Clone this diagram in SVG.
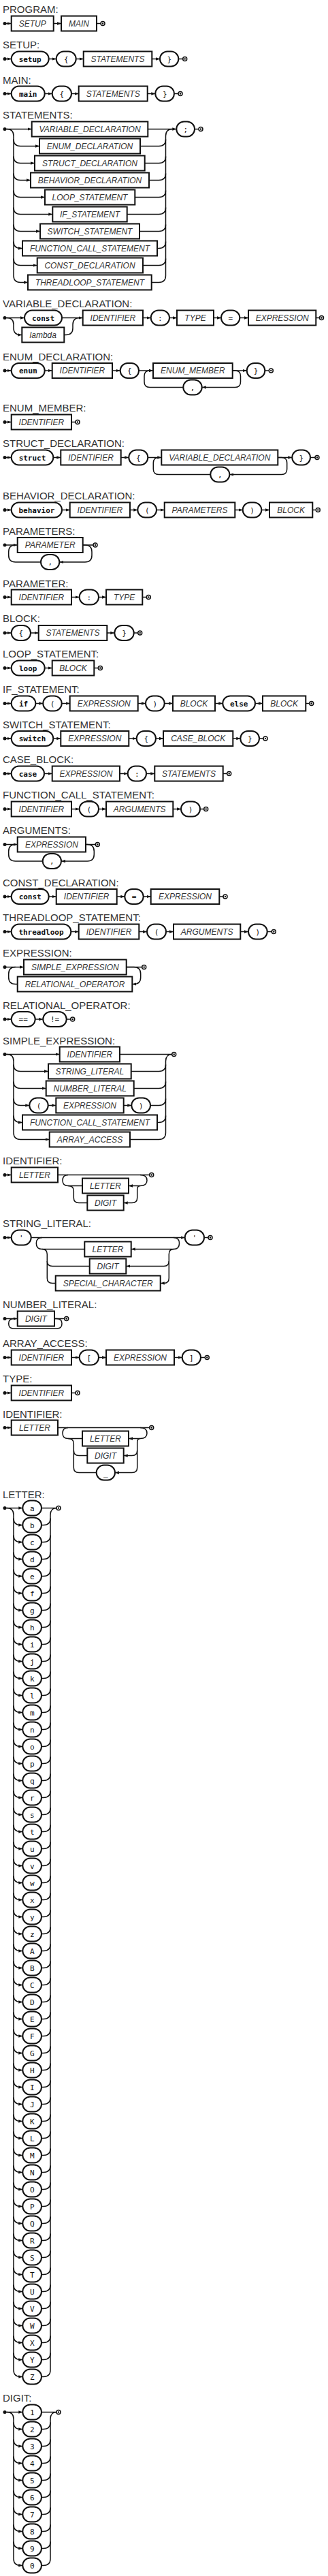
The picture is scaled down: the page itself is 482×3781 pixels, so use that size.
<svg xmlns="http://www.w3.org/2000/svg" xmlns:xlink="http://www.w3.org/1999/xlink" width="482" height="3781" viewBox="0 0 482 3781">
<style>
.ti{font-family:"Liberation Sans",Arial,sans-serif;font-size:15px;fill:#333}
.n rect{fill:#fff;stroke:#111;stroke-width:2}
.n text{font-family:"Liberation Sans",Arial,sans-serif;font-style:italic;font-size:12px;fill:#333;text-anchor:middle}
.k rect{fill:#fff;stroke:#111;stroke-width:2;rx:11px;ry:11px}
.k text{font-family:"DejaVu Sans Mono",monospace;font-size:11px;fill:#111;text-anchor:middle}
.k.b text{font-weight:bold}
.w path{fill:none;stroke:#111;stroke-width:1.5}
.w path.a{marker-end:url(#ah)}
.sd{fill:#111}
</style>
<defs>
<marker id="ah" viewBox="0 0 6 6" refX="6" refY="3" markerWidth="6" markerHeight="6" markerUnits="userSpaceOnUse" orient="auto"><path d="M0,0.8 L6,3 L0,5.2 z" fill="#111"/></marker>
<g id="endm"><circle r="3" fill="#fff" stroke="#111" stroke-width="1.5"/><circle r="1.2" fill="#111"/></g>
</defs>
<rect width="482" height="3781" fill="#fff"/>

<g id="rule-program">
<text class="ti" x="4" y="19">PROGRAM:</text>
<g id="program-wires" class="w">
<path class="a" d="M7,34.5 H16.7"/><path class="a" d="M78.7,34.5 H90"/><path d="M142,34.5 H148"/>
</g>
<circle class="sd" cx="7" cy="34.5" r="2.5"/><use xlink:href="#endm" x="151" y="34.5"/>
<g id="program-setup" class="n" transform="translate(0,34.5)"><rect x="16.7" y="-11" width="62" height="22"/><text x="47.7" y="4.3">SETUP</text></g>
<g id="program-main" class="n" transform="translate(0,34.5)"><rect x="90" y="-11" width="52" height="22"/><text x="116" y="4.3">MAIN</text></g>
</g>

<g id="rule-setup">
<text class="ti" x="4" y="71">SETUP:</text>
<g id="setup-wires" class="w">
<path class="a" d="M7,86.5 H16.7"/><path class="a" d="M71.7,86.5 H82.7"/><path class="a" d="M111.7,86.5 H122.7"/><path class="a" d="M223.3,86.5 H235"/><path d="M262.3,86.5 H268.7"/>
</g>
<circle class="sd" cx="7" cy="86.5" r="2.5"/><use xlink:href="#endm" x="271.7" y="86.5"/>
<g id="setup-kw" class="k b" transform="translate(0,86.5)"><rect x="16.7" y="-11" width="55" height="22"/><text x="44.2" y="4">setup</text></g>
<g id="setup-lbrace" class="k" transform="translate(0,86.5)"><rect x="82.7" y="-11" width="29" height="22"/><text x="97.2" y="4">{</text></g>
<g id="setup-statements" class="n" transform="translate(0,86.5)"><rect x="122.7" y="-11" width="100.6" height="22"/><text x="173" y="4.3">STATEMENTS</text></g>
<g id="setup-rbrace" class="k" transform="translate(0,86.5)"><rect x="235" y="-11" width="27.3" height="22"/><text x="248.7" y="4">}</text></g>
</g>

<g id="rule-main">
<text class="ti" x="4" y="122.5">MAIN:</text>
<g id="main-wires" class="w">
<path class="a" d="M7,137.5 H16.7"/><path class="a" d="M65.7,137.5 H76.7"/><path class="a" d="M105,137.5 H115.7"/><path class="a" d="M216.7,137.5 H228.3"/><path d="M256,137.5 H262"/>
</g>
<circle class="sd" cx="7" cy="137.5" r="2.5"/><use xlink:href="#endm" x="265" y="137.5"/>
<g id="main-kw" class="k b" transform="translate(0,137.5)"><rect x="16.7" y="-11" width="49" height="22"/><text x="41.2" y="4">main</text></g>
<g id="main-lbrace" class="k" transform="translate(0,137.5)"><rect x="76.7" y="-11" width="28.3" height="22"/><text x="90.9" y="4">{</text></g>
<g id="main-statements" class="n" transform="translate(0,137.5)"><rect x="115.7" y="-11" width="101" height="22"/><text x="166.2" y="4.3">STATEMENTS</text></g>
<g id="main-rbrace" class="k" transform="translate(0,137.5)"><rect x="228.3" y="-11" width="27.7" height="22"/><text x="242.2" y="4">}</text></g>
</g>

<g id="rule-statements">
<text class="ti" x="4" y="174">STATEMENTS:</text>
<g id="statements-wires" class="w">
<path class="a" d="M7,189.5 H46.7"/>
<path class="a" d="M217.3,189.5 H259.3"/>
<path d="M286,189.5 H292"/>
<path class="a" d="M10,189.5 Q20,189.5 20,199.5 V404.5 Q20,414.5 30,414.5 H41"/>
<path class="a" d="M20,204.5 Q20,214.5 30,214.5 H58"/>
<path class="a" d="M20,229.5 Q20,239.5 30,239.5 H51"/>
<path class="a" d="M20,254.5 Q20,264.5 30,264.5 H45"/>
<path class="a" d="M20,279.5 Q20,289.5 30,289.5 H66"/>
<path class="a" d="M20,304.5 Q20,314.5 30,314.5 H77.3"/>
<path class="a" d="M20,329.5 Q20,339.5 30,339.5 H59"/>
<path class="a" d="M20,354.5 Q20,364.5 30,364.5 H33"/>
<path class="a" d="M20,379.5 Q20,389.5 30,389.5 H54.7"/>
<path d="M222.7,414.5 H233.5 Q243.5,414.5 243.5,404.5 V199.5 Q243.5,189.5 253.5,189.5"/>
<path d="M206,214.5 H233.5 Q243.5,214.5 243.5,204.5 M212.7,239.5 H233.5 Q243.5,239.5 243.5,229.5 M219,264.5 H233.5 Q243.5,264.5 243.5,254.5 M198.3,289.5 H233.5 Q243.5,289.5 243.5,279.5 M186.7,314.5 H233.5 Q243.5,314.5 243.5,304.5 M205,339.5 H233.5 Q243.5,339.5 243.5,329.5 M231,364.5 H233.5 Q243.5,364.5 243.5,354.5 M210,389.5 H233.5 Q243.5,389.5 243.5,379.5"/>
</g>
<circle class="sd" cx="7" cy="189.5" r="2.5"/><use xlink:href="#endm" x="295" y="189.5"/>
<g id="statements-variable-declaration" class="n" transform="translate(0,189.5)"><rect x="46.7" y="-11" width="170.6" height="22"/><text x="132" y="4.3">VARIABLE_DECLARATION</text></g>
<g id="statements-enum-declaration" class="n" transform="translate(0,214.5)"><rect x="58" y="-11" width="148" height="22"/><text x="132" y="4.3">ENUM_DECLARATION</text></g>
<g id="statements-struct-declaration" class="n" transform="translate(0,239.5)"><rect x="51" y="-11" width="161.7" height="22"/><text x="132" y="4.3">STRUCT_DECLARATION</text></g>
<g id="statements-behavior-declaration" class="n" transform="translate(0,264.5)"><rect x="45" y="-11" width="174" height="22"/><text x="132" y="4.3">BEHAVIOR_DECLARATION</text></g>
<g id="statements-loop-statement" class="n" transform="translate(0,289.5)"><rect x="66" y="-11" width="132.3" height="22"/><text x="132" y="4.3">LOOP_STATEMENT</text></g>
<g id="statements-if-statement" class="n" transform="translate(0,314.5)"><rect x="77.3" y="-11" width="109.4" height="22"/><text x="132" y="4.3">IF_STATEMENT</text></g>
<g id="statements-switch-statement" class="n" transform="translate(0,339.5)"><rect x="59" y="-11" width="146" height="22"/><text x="132" y="4.3">SWITCH_STATEMENT</text></g>
<g id="statements-function-call-statement" class="n" transform="translate(0,364.5)"><rect x="33" y="-11" width="198" height="22"/><text x="132" y="4.3">FUNCTION_CALL_STATEMENT</text></g>
<g id="statements-const-declaration" class="n" transform="translate(0,389.5)"><rect x="54.7" y="-11" width="155.3" height="22"/><text x="132" y="4.3">CONST_DECLARATION</text></g>
<g id="statements-threadloop-statement" class="n" transform="translate(0,414.5)"><rect x="41" y="-11" width="181.7" height="22"/><text x="132" y="4.3">THREADLOOP_STATEMENT</text></g>
<g id="statements-semicolon" class="k" transform="translate(0,189.5)"><rect x="259.3" y="-11" width="26.7" height="22"/><text x="272.7" y="4">;</text></g>
</g>

<g id="rule-variable-declaration">
<text class="ti" x="4" y="450.5">VARIABLE_DECLARATION:</text>
<g id="vardecl-wires" class="w">
<path class="a" d="M7,466.5 H36"/>
<path class="a" d="M10,466.5 Q20,466.5 20,476.5 V481.5 Q20,491.5 30,491.5 H32.3"/>
<path class="a" d="M91,466.5 H121.7"/>
<path d="M94.3,491.5 H97 Q107,491.5 107,481.5 V476.5 Q107,466.5 117,466.5"/>
<path class="a" d="M210,466.5 H221.7"/><path class="a" d="M249,466.5 H260"/><path class="a" d="M314,466.5 H325"/><path class="a" d="M352.3,466.5 H365"/><path d="M464.3,466.5 H469.5"/>
</g>
<circle class="sd" cx="7" cy="466.5" r="2.5"/><use xlink:href="#endm" x="472.5" y="466.5"/>
<g id="vardecl-const" class="k b" transform="translate(0,466.5)"><rect x="36" y="-11" width="55" height="22"/><text x="63.5" y="4">const</text></g>
<g id="vardecl-lambda" class="n" transform="translate(0,491.5)"><rect x="32.3" y="-11" width="62" height="22"/><text x="63.3" y="4.3">lambda</text></g>
<g id="vardecl-identifier" class="n" transform="translate(0,466.5)"><rect x="121.7" y="-11" width="88.3" height="22"/><text x="165.9" y="4.3">IDENTIFIER</text></g>
<g id="vardecl-colon" class="k" transform="translate(0,466.5)"><rect x="221.7" y="-11" width="27.3" height="22"/><text x="235.4" y="4">:</text></g>
<g id="vardecl-type" class="n" transform="translate(0,466.5)"><rect x="260" y="-11" width="54" height="22"/><text x="287" y="4.3">TYPE</text></g>
<g id="vardecl-eq" class="k" transform="translate(0,466.5)"><rect x="325" y="-11" width="27.3" height="22"/><text x="338.7" y="4">=</text></g>
<g id="vardecl-expression" class="n" transform="translate(0,466.5)"><rect x="365" y="-11" width="99.3" height="22"/><text x="414.7" y="4.3">EXPRESSION</text></g>
</g>

<g id="rule-enum-declaration">
<text class="ti" x="4" y="529">ENUM_DECLARATION:</text>
<g id="enumdecl-wires" class="w">
<path class="a" d="M7,544 H16.7"/><path class="a" d="M65.7,544 H76.7"/><path class="a" d="M165,544 H176.7"/><path class="a" d="M204,544 H225"/><path class="a" d="M341.7,544 H362.7"/><path d="M389.3,544 H395.3"/>
<path class="a" d="M341.7,544 H345.5 Q353.5,544 353.5,552 V560.5 Q353.5,568.5 345.5,568.5 H296.7"/>
<path d="M269.3,568.5 H220 Q212,568.5 212,560.5 V552 Q212,544 220,544"/>
</g>
<circle class="sd" cx="7" cy="544" r="2.5"/><use xlink:href="#endm" x="398.3" y="544"/>
<g id="enumdecl-enum" class="k b" transform="translate(0,544)"><rect x="16.7" y="-11" width="49" height="22"/><text x="41.2" y="4">enum</text></g>
<g id="enumdecl-identifier" class="n" transform="translate(0,544)"><rect x="76.7" y="-11" width="88.3" height="22"/><text x="120.9" y="4.3">IDENTIFIER</text></g>
<g id="enumdecl-lbrace" class="k" transform="translate(0,544)"><rect x="176.7" y="-11" width="27.3" height="22"/><text x="190.4" y="4">{</text></g>
<g id="enumdecl-member" class="n" transform="translate(0,544)"><rect x="225" y="-11" width="116.7" height="22"/><text x="283.4" y="4.3">ENUM_MEMBER</text></g>
<g id="enumdecl-rbrace" class="k" transform="translate(0,544)"><rect x="362.7" y="-11" width="26.6" height="22"/><text x="376" y="4">}</text></g>
<g id="enumdecl-comma" class="k" transform="translate(0,568.5)"><rect x="269.3" y="-11" width="27.4" height="22"/><text x="283" y="4">,</text></g>
</g>

<g id="rule-enum-member">
<text class="ti" x="4" y="604">ENUM_MEMBER:</text>
<g id="enummember-wires" class="w"><path class="a" d="M7,619.5 H16.7"/><path d="M105,619.5 H111"/></g>
<circle class="sd" cx="7" cy="619.5" r="2.5"/><use xlink:href="#endm" x="114" y="619.5"/>
<g id="enummember-identifier" class="n" transform="translate(0,619.5)"><rect x="16.7" y="-11" width="88.3" height="22"/><text x="60.9" y="4.3">IDENTIFIER</text></g>
</g>

<g id="rule-struct-declaration">
<text class="ti" x="4" y="656">STRUCT_DECLARATION:</text>
<g id="structdecl-wires" class="w">
<path class="a" d="M7,671.5 H16.7"/><path class="a" d="M78.3,671.5 H89.3"/><path class="a" d="M177.7,671.5 H189.3"/><path class="a" d="M217.3,671.5 H237.3"/><path class="a" d="M408.3,671.5 H429.3"/><path d="M456,671.5 H463"/>
<path class="a" d="M408.3,671.5 H413.7 Q421.7,671.5 421.7,679.5 V688.5 Q421.7,696.5 413.7,696.5 H337.3"/>
<path d="M309.3,696.5 H233.3 Q225.3,696.5 225.3,688.5 V679.5 Q225.3,671.5 233.3,671.5"/>
</g>
<circle class="sd" cx="7" cy="671.5" r="2.5"/><use xlink:href="#endm" x="466" y="671.5"/>
<g id="structdecl-struct" class="k b" transform="translate(0,671.5)"><rect x="16.7" y="-11" width="61.6" height="22"/><text x="47.5" y="4">struct</text></g>
<g id="structdecl-identifier" class="n" transform="translate(0,671.5)"><rect x="89.3" y="-11" width="88.4" height="22"/><text x="133.5" y="4.3">IDENTIFIER</text></g>
<g id="structdecl-lbrace" class="k" transform="translate(0,671.5)"><rect x="189.3" y="-11" width="28" height="22"/><text x="203.3" y="4">{</text></g>
<g id="structdecl-vardecl" class="n" transform="translate(0,671.5)"><rect x="237.3" y="-11" width="171" height="22"/><text x="322.8" y="4.3">VARIABLE_DECLARATION</text></g>
<g id="structdecl-rbrace" class="k" transform="translate(0,671.5)"><rect x="429.3" y="-11" width="26.7" height="22"/><text x="442.7" y="4">}</text></g>
<g id="structdecl-comma" class="k" transform="translate(0,696.5)"><rect x="309.3" y="-11" width="28" height="22"/><text x="323.3" y="4">,</text></g>
</g>

<g id="rule-behavior-declaration">
<text class="ti" x="4" y="732.5">BEHAVIOR_DECLARATION:</text>
<g id="behavior-wires" class="w">
<path class="a" d="M7,748.5 H16.7"/><path class="a" d="M91,748.5 H102.7"/><path class="a" d="M191,748.5 H202.3"/><path class="a" d="M230,748.5 H241.7"/><path class="a" d="M345.3,748.5 H356.7"/><path class="a" d="M384.3,748.5 H396"/><path d="M459.3,748.5 H464.3"/>
</g>
<circle class="sd" cx="7" cy="748.5" r="2.5"/><use xlink:href="#endm" x="467.3" y="748.5"/>
<g id="behavior-kw" class="k b" transform="translate(0,748.5)"><rect x="16.7" y="-11" width="74.3" height="22"/><text x="53.9" y="4">behavior</text></g>
<g id="behavior-identifier" class="n" transform="translate(0,748.5)"><rect x="102.7" y="-11" width="88.3" height="22"/><text x="146.9" y="4.3">IDENTIFIER</text></g>
<g id="behavior-lparen" class="k" transform="translate(0,748.5)"><rect x="202.3" y="-11" width="27.7" height="22"/><text x="216.2" y="4">(</text></g>
<g id="behavior-parameters" class="n" transform="translate(0,748.5)"><rect x="241.7" y="-11" width="103.6" height="22"/><text x="293.5" y="4.3">PARAMETERS</text></g>
<g id="behavior-rparen" class="k" transform="translate(0,748.5)"><rect x="356.7" y="-11" width="27.6" height="22"/><text x="370.5" y="4">)</text></g>
<g id="behavior-block" class="n" transform="translate(0,748.5)"><rect x="396" y="-11" width="63.3" height="22"/><text x="427.7" y="4.3">BLOCK</text></g>
</g>

<g id="rule-parameters">
<text class="ti" x="4" y="784.5">PARAMETERS:</text>
<g id="parameters-wires" class="w">
<path class="a" d="M7,800 H25.7"/><path d="M121.7,800 H137"/>
<path class="a" d="M121.7,800 H125 Q135,800 135,810 V815 Q135,825 125,825 H87.3"/>
<path d="M60,825 H22.7 Q12.7,825 12.7,815 V810 Q12.7,800 22.7,800"/>
</g>
<circle class="sd" cx="7" cy="800" r="2.5"/><use xlink:href="#endm" x="140" y="800"/>
<g id="parameters-parameter" class="n" transform="translate(0,800)"><rect x="25.7" y="-11" width="96" height="22"/><text x="73.7" y="4.3">PARAMETER</text></g>
<g id="parameters-comma" class="k" transform="translate(0,825)"><rect x="60" y="-11" width="27.3" height="22"/><text x="73.7" y="4">,</text></g>
</g>

<g id="rule-parameter">
<text class="ti" x="4" y="861.5">PARAMETER:</text>
<g id="parameter-wires" class="w">
<path class="a" d="M7,876.5 H16.7"/><path class="a" d="M105,876.5 H116.7"/><path class="a" d="M145,876.5 H156"/><path d="M209.3,876.5 H215.3"/>
</g>
<circle class="sd" cx="7" cy="876.5" r="2.5"/><use xlink:href="#endm" x="218.3" y="876.5"/>
<g id="parameter-identifier" class="n" transform="translate(0,876.5)"><rect x="16.7" y="-11" width="88.3" height="22"/><text x="60.9" y="4.3">IDENTIFIER</text></g>
<g id="parameter-colon" class="k" transform="translate(0,876.5)"><rect x="116.7" y="-11" width="28.3" height="22"/><text x="130.9" y="4">:</text></g>
<g id="parameter-type" class="n" transform="translate(0,876.5)"><rect x="156" y="-11" width="53.3" height="22"/><text x="182.7" y="4.3">TYPE</text></g>
</g>

<g id="rule-block">
<text class="ti" x="4" y="913">BLOCK:</text>
<g id="block-wires" class="w">
<path class="a" d="M7,929 H16.7"/><path class="a" d="M45,929 H56.7"/><path class="a" d="M157.3,929 H168.3"/><path d="M196.7,929 H202.7"/>
</g>
<circle class="sd" cx="7" cy="929" r="2.5"/><use xlink:href="#endm" x="205.7" y="929"/>
<g id="block-lbrace" class="k" transform="translate(0,929)"><rect x="16.7" y="-11" width="28.3" height="22"/><text x="30.9" y="4">{</text></g>
<g id="block-statements" class="n" transform="translate(0,929)"><rect x="56.7" y="-11" width="100.6" height="22"/><text x="107" y="4.3">STATEMENTS</text></g>
<g id="block-rbrace" class="k" transform="translate(0,929)"><rect x="168.3" y="-11" width="28.4" height="22"/><text x="182.5" y="4">}</text></g>
</g>

<g id="rule-loop-statement">
<text class="ti" x="4" y="965">LOOP_STATEMENT:</text>
<g id="loop-wires" class="w">
<path class="a" d="M7,980.5 H16.7"/><path class="a" d="M65.7,980.5 H76.7"/><path d="M138.3,980.5 H144.3"/>
</g>
<circle class="sd" cx="7" cy="980.5" r="2.5"/><use xlink:href="#endm" x="147.3" y="980.5"/>
<g id="loop-kw" class="k b" transform="translate(0,980.5)"><rect x="16.7" y="-11" width="49" height="22"/><text x="41.2" y="4">loop</text></g>
<g id="loop-block" class="n" transform="translate(0,980.5)"><rect x="76.7" y="-11" width="61.6" height="22"/><text x="107.5" y="4.3">BLOCK</text></g>
</g>

<g id="rule-if-statement">
<text class="ti" x="4" y="1016.5">IF_STATEMENT:</text>
<g id="if-wires" class="w">
<path class="a" d="M7,1032.5 H16.7"/><path class="a" d="M52.3,1032.5 H63.3"/><path class="a" d="M90.7,1032.5 H102.7"/><path class="a" d="M202.7,1032.5 H214"/><path class="a" d="M241.7,1032.5 H254"/><path class="a" d="M316,1032.5 H327.3"/><path class="a" d="M375,1032.5 H386"/><path d="M449.3,1032.5 H454.7"/>
</g>
<circle class="sd" cx="7" cy="1032.5" r="2.5"/><use xlink:href="#endm" x="457.7" y="1032.5"/>
<g id="if-kw" class="k b" transform="translate(0,1032.5)"><rect x="16.7" y="-11" width="35.6" height="22"/><text x="34.5" y="4">if</text></g>
<g id="if-lparen" class="k" transform="translate(0,1032.5)"><rect x="63.3" y="-11" width="27.4" height="22"/><text x="77" y="4">(</text></g>
<g id="if-expression" class="n" transform="translate(0,1032.5)"><rect x="102.7" y="-11" width="100" height="22"/><text x="152.7" y="4.3">EXPRESSION</text></g>
<g id="if-rparen" class="k" transform="translate(0,1032.5)"><rect x="214" y="-11" width="27.7" height="22"/><text x="227.9" y="4">)</text></g>
<g id="if-block1" class="n" transform="translate(0,1032.5)"><rect x="254" y="-11" width="62" height="22"/><text x="285" y="4.3">BLOCK</text></g>
<g id="if-else" class="k b" transform="translate(0,1032.5)"><rect x="327.3" y="-11" width="47.7" height="22"/><text x="351.2" y="4">else</text></g>
<g id="if-block2" class="n" transform="translate(0,1032.5)"><rect x="386" y="-11" width="63.3" height="22"/><text x="417.7" y="4.3">BLOCK</text></g>
</g>

<g id="rule-switch-statement">
<text class="ti" x="4" y="1068.5">SWITCH_STATEMENT:</text>
<g id="switch-wires" class="w">
<path class="a" d="M7,1084 H16.7"/><path class="a" d="M78.3,1084 H89.3"/><path class="a" d="M189.3,1084 H200.7"/><path class="a" d="M229,1084 H240"/><path class="a" d="M342.3,1084 H353.3"/><path d="M381,1084 H387"/>
</g>
<circle class="sd" cx="7" cy="1084" r="2.5"/><use xlink:href="#endm" x="390" y="1084"/>
<g id="switch-kw" class="k b" transform="translate(0,1084)"><rect x="16.7" y="-11" width="61.6" height="22"/><text x="47.5" y="4">switch</text></g>
<g id="switch-expression" class="n" transform="translate(0,1084)"><rect x="89.3" y="-11" width="100" height="22"/><text x="139.3" y="4.3">EXPRESSION</text></g>
<g id="switch-lbrace" class="k" transform="translate(0,1084)"><rect x="200.7" y="-11" width="28.3" height="22"/><text x="214.9" y="4">{</text></g>
<g id="switch-caseblock" class="n" transform="translate(0,1084)"><rect x="240" y="-11" width="102.3" height="22"/><text x="291.2" y="4.3">CASE_BLOCK</text></g>
<g id="switch-rbrace" class="k" transform="translate(0,1084)"><rect x="353.3" y="-11" width="27.7" height="22"/><text x="367.2" y="4">}</text></g>
</g>

<g id="rule-case-block">
<text class="ti" x="4" y="1120">CASE_BLOCK:</text>
<g id="case-wires" class="w">
<path class="a" d="M7,1135.5 H16.7"/><path class="a" d="M65,1135.5 H76.7"/><path class="a" d="M176,1135.5 H187.7"/><path class="a" d="M215,1135.5 H227.3"/><path d="M327.7,1135.5 H333.7"/>
</g>
<circle class="sd" cx="7" cy="1135.5" r="2.5"/><use xlink:href="#endm" x="336.7" y="1135.5"/>
<g id="case-kw" class="k b" transform="translate(0,1135.5)"><rect x="16.7" y="-11" width="48.3" height="22"/><text x="40.9" y="4">case</text></g>
<g id="case-expression" class="n" transform="translate(0,1135.5)"><rect x="76.7" y="-11" width="99.3" height="22"/><text x="126.4" y="4.3">EXPRESSION</text></g>
<g id="case-colon" class="k" transform="translate(0,1135.5)"><rect x="187.7" y="-11" width="27.3" height="22"/><text x="201.4" y="4">:</text></g>
<g id="case-statements" class="n" transform="translate(0,1135.5)"><rect x="227.3" y="-11" width="100.4" height="22"/><text x="277.5" y="4.3">STATEMENTS</text></g>
</g>

<g id="rule-function-call-statement">
<text class="ti" x="4" y="1171.5">FUNCTION_CALL_STATEMENT:</text>
<g id="funccall-wires" class="w">
<path class="a" d="M7,1187.5 H16.7"/><path class="a" d="M105,1187.5 H116.7"/><path class="a" d="M145,1187.5 H156"/><path class="a" d="M254.3,1187.5 H266"/><path d="M294,1187.5 H299.7"/>
</g>
<circle class="sd" cx="7" cy="1187.5" r="2.5"/><use xlink:href="#endm" x="302.7" y="1187.5"/>
<g id="funccall-identifier" class="n" transform="translate(0,1187.5)"><rect x="16.7" y="-11" width="88.3" height="22"/><text x="60.9" y="4.3">IDENTIFIER</text></g>
<g id="funccall-lparen" class="k" transform="translate(0,1187.5)"><rect x="116.7" y="-11" width="28.3" height="22"/><text x="130.9" y="4">(</text></g>
<g id="funccall-arguments" class="n" transform="translate(0,1187.5)"><rect x="156" y="-11" width="98.3" height="22"/><text x="205.2" y="4.3">ARGUMENTS</text></g>
<g id="funccall-rparen" class="k" transform="translate(0,1187.5)"><rect x="266" y="-11" width="28" height="22"/><text x="280" y="4">)</text></g>
</g>

<g id="rule-arguments">
<text class="ti" x="4" y="1223.5">ARGUMENTS:</text>
<g id="arguments-wires" class="w">
<path class="a" d="M7,1239.5 H25.7"/><path d="M126,1239.5 H140.3"/>
<path class="a" d="M126,1239.5 H128.3 Q138.3,1239.5 138.3,1249.5 V1254 Q138.3,1264 128.3,1264 H90"/>
<path d="M62.7,1264 H22.7 Q12.7,1264 12.7,1254 V1249.5 Q12.7,1239.5 22.7,1239.5"/>
</g>
<circle class="sd" cx="7" cy="1239.5" r="2.5"/><use xlink:href="#endm" x="143.3" y="1239.5"/>
<g id="arguments-expression" class="n" transform="translate(0,1239.5)"><rect x="25.7" y="-11" width="100.3" height="22"/><text x="75.9" y="4.3">EXPRESSION</text></g>
<g id="arguments-comma" class="k" transform="translate(0,1264)"><rect x="62.7" y="-11" width="27.3" height="22"/><text x="76.4" y="4">,</text></g>
</g>

<g id="rule-const-declaration">
<text class="ti" x="4" y="1300.5">CONST_DECLARATION:</text>
<g id="constdecl-wires" class="w">
<path class="a" d="M7,1316 H16.7"/><path class="a" d="M71.7,1316 H82.7"/><path class="a" d="M171.7,1316 H183.3"/><path class="a" d="M210.7,1316 H221.7"/><path d="M322.3,1316 H328"/>
</g>
<circle class="sd" cx="7" cy="1316" r="2.5"/><use xlink:href="#endm" x="331" y="1316"/>
<g id="constdecl-const" class="k b" transform="translate(0,1316)"><rect x="16.7" y="-11" width="55" height="22"/><text x="44.2" y="4">const</text></g>
<g id="constdecl-identifier" class="n" transform="translate(0,1316)"><rect x="82.7" y="-11" width="89" height="22"/><text x="127.2" y="4.3">IDENTIFIER</text></g>
<g id="constdecl-eq" class="k" transform="translate(0,1316)"><rect x="183.3" y="-11" width="27.4" height="22"/><text x="197" y="4">=</text></g>
<g id="constdecl-expression" class="n" transform="translate(0,1316)"><rect x="221.7" y="-11" width="100.6" height="22"/><text x="272" y="4.3">EXPRESSION</text></g>
</g>

<g id="rule-threadloop-statement">
<text class="ti" x="4" y="1352">THREADLOOP_STATEMENT:</text>
<g id="threadloop-wires" class="w">
<path class="a" d="M7,1367.5 H16.7"/><path class="a" d="M104.3,1367.5 H115.7"/><path class="a" d="M204.3,1367.5 H216"/><path class="a" d="M244,1367.5 H255"/><path class="a" d="M353.3,1367.5 H365"/><path d="M392.7,1367.5 H399.3"/>
</g>
<circle class="sd" cx="7" cy="1367.5" r="2.5"/><use xlink:href="#endm" x="402.3" y="1367.5"/>
<g id="threadloop-kw" class="k b" transform="translate(0,1367.5)"><rect x="16.7" y="-11" width="87.6" height="22"/><text x="60.5" y="4">threadloop</text></g>
<g id="threadloop-identifier" class="n" transform="translate(0,1367.5)"><rect x="115.7" y="-11" width="88.6" height="22"/><text x="160" y="4.3">IDENTIFIER</text></g>
<g id="threadloop-lparen" class="k" transform="translate(0,1367.5)"><rect x="216" y="-11" width="28" height="22"/><text x="230" y="4">(</text></g>
<g id="threadloop-arguments" class="n" transform="translate(0,1367.5)"><rect x="255" y="-11" width="98.3" height="22"/><text x="304.2" y="4.3">ARGUMENTS</text></g>
<g id="threadloop-rparen" class="k" transform="translate(0,1367.5)"><rect x="365" y="-11" width="27.7" height="22"/><text x="378.9" y="4">)</text></g>
</g>

<g id="rule-expression">
<text class="ti" x="4" y="1404">EXPRESSION:</text>
<g id="expression-wires" class="w">
<path class="a" d="M7,1419.5 H35"/><path d="M185.7,1419.5 H208.7"/>
<path class="a" d="M185.7,1419.5 H196.7 Q206.7,1419.5 206.7,1429.5 V1434.5 Q206.7,1444.5 196.7,1444.5 H194.3"/>
<path d="M25.7,1444.5 H22.7 Q12.7,1444.5 12.7,1434.5 V1429.5 Q12.7,1419.5 22.7,1419.5"/>
</g>
<circle class="sd" cx="7" cy="1419.5" r="2.5"/><use xlink:href="#endm" x="211.7" y="1419.5"/>
<g id="expression-simple" class="n" transform="translate(0,1419.5)"><rect x="35" y="-11" width="150.7" height="22"/><text x="110.4" y="4.3">SIMPLE_EXPRESSION</text></g>
<g id="expression-relop" class="n" transform="translate(0,1444.5)"><rect x="25.7" y="-11" width="168.6" height="22"/><text x="110" y="4.3">RELATIONAL_OPERATOR</text></g>
</g>

<g id="rule-relational-operator">
<text class="ti" x="4" y="1481">RELATIONAL_OPERATOR:</text>
<g id="relop-wires" class="w">
<path class="a" d="M7,1496 H16.7"/><path class="a" d="M51.7,1496 H63.3"/><path d="M97.7,1496 H103.7"/>
</g>
<circle class="sd" cx="7" cy="1496" r="2.5"/><use xlink:href="#endm" x="106.7" y="1496"/>
<g id="relop-eqeq" class="k" transform="translate(0,1496)"><rect x="16.7" y="-11" width="35" height="22"/><text x="34.2" y="4">==</text></g>
<g id="relop-neq" class="k" transform="translate(0,1496)"><rect x="63.3" y="-11" width="34.4" height="22"/><text x="80.5" y="4">!=</text></g>
</g>

<g id="rule-simple-expression">
<text class="ti" x="4" y="1532.5">SIMPLE_EXPRESSION:</text>
<g id="simpleexpr-wires" class="w">
<path class="a" d="M7,1547.5 H87.7"/><path d="M176,1547.5 H252.7"/>
<path class="a" d="M10,1547.5 Q20,1547.5 20,1557.5 V1662.5 Q20,1672.5 30,1672.5 H72.7"/>
<path class="a" d="M20,1562.5 Q20,1572.5 30,1572.5 H71"/>
<path class="a" d="M20,1587.5 Q20,1597.5 30,1597.5 H67.7"/>
<path class="a" d="M20,1612.5 Q20,1622.5 30,1622.5 H43.3"/>
<path class="a" d="M70.7,1622.5 H82.3"/><path class="a" d="M181.7,1622.5 H193.3"/>
<path class="a" d="M20,1637.5 Q20,1647.5 30,1647.5 H33"/>
<path d="M191,1672.5 H233.5 Q243.5,1672.5 243.5,1662.5 V1557.5 Q243.5,1547.5 252.7,1547.5"/>
<path d="M192.7,1572.5 H233.5 Q243.5,1572.5 243.5,1562.5 M196.7,1597.5 H233.5 Q243.5,1597.5 243.5,1587.5 M221,1622.5 H233.5 Q243.5,1622.5 243.5,1612.5 M231,1647.5 H233.5 Q243.5,1647.5 243.5,1637.5"/>
</g>
<circle class="sd" cx="7" cy="1547.5" r="2.5"/><use xlink:href="#endm" x="255.7" y="1547.5"/>
<g id="simpleexpr-identifier" class="n" transform="translate(0,1547.5)"><rect x="87.7" y="-11" width="88.3" height="22"/><text x="131.9" y="4.3">IDENTIFIER</text></g>
<g id="simpleexpr-string" class="n" transform="translate(0,1572.5)"><rect x="71" y="-11" width="121.7" height="22"/><text x="131.9" y="4.3">STRING_LITERAL</text></g>
<g id="simpleexpr-number" class="n" transform="translate(0,1597.5)"><rect x="67.7" y="-11" width="129" height="22"/><text x="132.2" y="4.3">NUMBER_LITERAL</text></g>
<g id="simpleexpr-lparen" class="k" transform="translate(0,1622.5)"><rect x="43.3" y="-11" width="27.4" height="22"/><text x="57" y="4">(</text></g>
<g id="simpleexpr-expression" class="n" transform="translate(0,1622.5)"><rect x="82.3" y="-11" width="99.4" height="22"/><text x="132" y="4.3">EXPRESSION</text></g>
<g id="simpleexpr-rparen" class="k" transform="translate(0,1622.5)"><rect x="193.3" y="-11" width="27.7" height="22"/><text x="207.2" y="4">)</text></g>
<g id="simpleexpr-funccall" class="n" transform="translate(0,1647.5)"><rect x="33" y="-11" width="198" height="22"/><text x="132" y="4.3">FUNCTION_CALL_STATEMENT</text></g>
<g id="simpleexpr-array" class="n" transform="translate(0,1672.5)"><rect x="72.7" y="-11" width="118.3" height="22"/><text x="131.9" y="4.3">ARRAY_ACCESS</text></g>
</g>

<g id="rule-identifier-1">
<text class="ti" x="4" y="1708.5">IDENTIFIER:</text>
<g id="ident1-wires" class="w">
<path class="a" d="M7,1724.5 H16.7"/><path d="M85,1724.5 H219.7"/>
<path class="a" d="M206,1724.5 Q216,1724.5 216,1732.5 Q216,1740.5 206,1740.5 H189"/>
<path class="a" d="M206,1740.5 Q201.7,1740.5 201.7,1746 V1758 Q201.7,1765.5 194,1765.5 H181.7"/>
<path d="M121,1740.5 H100 Q92,1740.5 92,1732.5 Q92,1724.5 100,1724.5"/>
<path d="M128.3,1765.5 H116 Q108.3,1765.5 108.3,1758 V1748 Q108.3,1740.5 100.3,1740.5"/>
</g>
<circle class="sd" cx="7" cy="1724.5" r="2.5"/><use xlink:href="#endm" x="222.7" y="1724.5"/>
<g id="ident1-letter" class="n" transform="translate(0,1724.5)"><rect x="16.7" y="-11" width="68.3" height="22"/><text x="50.9" y="4.3">LETTER</text></g>
<g id="ident1-letter-rep" class="n" transform="translate(0,1740.5)"><rect x="121" y="-11" width="68" height="22"/><text x="155" y="4.3">LETTER</text></g>
<g id="ident1-digit-rep" class="n" transform="translate(0,1765.5)"><rect x="128.3" y="-11" width="53.4" height="22"/><text x="155" y="4.3">DIGIT</text></g>
</g>

<g id="rule-string-literal">
<text class="ti" x="4" y="1801">STRING_LITERAL:</text>
<g id="string-wires" class="w">
<path class="a" d="M7,1816.5 H16.7"/><path class="a" d="M45.7,1816.5 H271.7"/><path d="M300,1816.5 H306"/>
<path class="a" d="M255,1816.5 Q263.5,1816.5 263.5,1825 Q263.5,1833.5 255,1833.5 H192.7"/>
<path class="a" d="M255,1833.5 Q248.3,1833.5 248.3,1841 V1851 Q248.3,1858.5 240.8,1858.5 H185.3"/>
<path class="a" d="M248.3,1851 V1876 Q248.3,1883.5 240.8,1883.5 H235.7"/>
<path d="M124.3,1833.5 H62 Q53.3,1833.5 53.3,1825 Q53.3,1816.5 62,1816.5"/>
<path d="M131.7,1858.5 H77 Q69.3,1858.5 69.3,1851 V1841 Q69.3,1833.5 62,1833.5"/>
<path d="M81.7,1883.5 H77 Q69.3,1883.5 69.3,1876 V1851"/>
</g>
<circle class="sd" cx="7" cy="1816.5" r="2.5"/><use xlink:href="#endm" x="309" y="1816.5"/>
<g id="string-open-quote" class="k" transform="translate(0,1816.5)"><rect x="16.7" y="-11" width="29" height="22"/><text x="31.2" y="4">'</text></g>
<g id="string-close-quote" class="k" transform="translate(0,1816.5)"><rect x="271.7" y="-11" width="28.3" height="22"/><text x="285.9" y="4">'</text></g>
<g id="string-letter" class="n" transform="translate(0,1833.5)"><rect x="124.3" y="-11" width="68.4" height="22"/><text x="158.5" y="4.3">LETTER</text></g>
<g id="string-digit" class="n" transform="translate(0,1858.5)"><rect x="131.7" y="-11" width="53.6" height="22"/><text x="158.5" y="4.3">DIGIT</text></g>
<g id="string-special" class="n" transform="translate(0,1883.5)"><rect x="81.7" y="-11" width="154" height="22"/><text x="158.7" y="4.3">SPECIAL_CHARACTER</text></g>
</g>

<g id="rule-number-literal">
<text class="ti" x="4" y="1920">NUMBER_LITERAL:</text>
<g id="number-wires" class="w">
<path class="a" d="M7,1935.5 H25.7"/><path d="M80,1935.5 H94.7"/>
<path d="M80,1935.5 H83.5 Q91,1935.5 91,1942.75 Q91,1950 83.5,1950 H20 Q12.7,1950 12.7,1942.75 Q12.7,1935.5 20,1935.5"/>
</g>
<circle class="sd" cx="7" cy="1935.5" r="2.5"/><use xlink:href="#endm" x="97.7" y="1935.5"/>
<g id="number-digit" class="n" transform="translate(0,1935.5)"><rect x="25.7" y="-11" width="54.3" height="22"/><text x="52.9" y="4.3">DIGIT</text></g>
</g>

<g id="rule-array-access">
<text class="ti" x="4" y="1976.5">ARRAY_ACCESS:</text>
<g id="array-wires" class="w">
<path class="a" d="M7,1992.5 H16.7"/><path class="a" d="M105,1992.5 H116.7"/><path class="a" d="M145,1992.5 H156"/><path class="a" d="M256,1992.5 H267.7"/><path d="M295,1992.5 H301.3"/>
</g>
<circle class="sd" cx="7" cy="1992.5" r="2.5"/><use xlink:href="#endm" x="304.3" y="1992.5"/>
<g id="array-identifier" class="n" transform="translate(0,1992.5)"><rect x="16.7" y="-11" width="88.3" height="22"/><text x="60.9" y="4.3">IDENTIFIER</text></g>
<g id="array-lbracket" class="k" transform="translate(0,1992.5)"><rect x="116.7" y="-11" width="28.3" height="22"/><text x="130.9" y="4">[</text></g>
<g id="array-expression" class="n" transform="translate(0,1992.5)"><rect x="156" y="-11" width="100" height="22"/><text x="206" y="4.3">EXPRESSION</text></g>
<g id="array-rbracket" class="k" transform="translate(0,1992.5)"><rect x="267.7" y="-11" width="27.3" height="22"/><text x="281.4" y="4">]</text></g>
</g>

<g id="rule-type">
<text class="ti" x="4" y="2028.5">TYPE:</text>
<g id="type-wires" class="w"><path class="a" d="M7,2044.5 H16.7"/><path d="M105,2044.5 H111"/></g>
<circle class="sd" cx="7" cy="2044.5" r="2.5"/><use xlink:href="#endm" x="114" y="2044.5"/>
<g id="type-identifier" class="n" transform="translate(0,2044.5)"><rect x="16.7" y="-11" width="88.3" height="22"/><text x="60.9" y="4.3">IDENTIFIER</text></g>
</g>

<g id="rule-identifier-2">
<text class="ti" x="4" y="2080.5">IDENTIFIER:</text>
<g id="ident2-wires" class="w">
<path class="a" d="M7,2095.5 H16.7"/><path d="M85,2095.5 H219.7"/>
<path class="a" d="M206,2095.5 Q216,2095.5 216,2103.5 Q216,2111.5 206,2111.5 H189"/>
<path class="a" d="M206,2111.5 Q201.7,2111.5 201.7,2117 V2129 Q201.7,2136.5 194,2136.5 H181.7"/>
<path class="a" d="M201.7,2129 V2154 Q201.7,2161.5 194,2161.5 H169"/>
<path d="M121,2111.5 H100 Q92,2111.5 92,2103.5 Q92,2095.5 100,2095.5"/>
<path d="M128.3,2136.5 H116 Q108.3,2136.5 108.3,2129 V2119 Q108.3,2111.5 100.3,2111.5"/>
<path d="M141.7,2161.5 H116 Q108.3,2161.5 108.3,2154 V2129"/>
</g>
<circle class="sd" cx="7" cy="2095.5" r="2.5"/><use xlink:href="#endm" x="222.7" y="2095.5"/>
<g id="ident2-letter" class="n" transform="translate(0,2095.5)"><rect x="16.7" y="-11" width="68.3" height="22"/><text x="50.9" y="4.3">LETTER</text></g>
<g id="ident2-letter-rep" class="n" transform="translate(0,2111.5)"><rect x="121" y="-11" width="68" height="22"/><text x="155" y="4.3">LETTER</text></g>
<g id="ident2-digit-rep" class="n" transform="translate(0,2136.5)"><rect x="128.3" y="-11" width="53.4" height="22"/><text x="155" y="4.3">DIGIT</text></g>
<g id="ident2-underscore" class="k" transform="translate(0,2161.5)"><rect x="141.7" y="-11" width="27.3" height="22"/><text x="155.4" y="4">_</text></g>
</g>

<g id="rule-letter">
<text class="ti" x="4" y="2198.5">LETTER:</text>
<g id="letter-wires" class="w">
<path class="a" d="M7,2213.5 H33.3"/><path d="M61,2213.5 H83"/>
<path class="a" d="M10,2213.5 Q20,2213.5 20,2223.5 V3478.5 Q20,3488.5 30,3488.5 H33.3"/>
<path d="M61,3488.5 H64 Q74,3488.5 74,3478.5 V2223.5 Q74,2213.5 83,2213.5"/>
<path class="a" d="M20,2228.5 Q20,2238.5 30,2238.5 H33.3"/>
<path class="a" d="M20,2253.5 Q20,2263.5 30,2263.5 H33.3"/>
<path class="a" d="M20,2278.5 Q20,2288.5 30,2288.5 H33.3"/>
<path class="a" d="M20,2303.5 Q20,2313.5 30,2313.5 H33.3"/>
<path class="a" d="M20,2328.5 Q20,2338.5 30,2338.5 H33.3"/>
<path class="a" d="M20,2353.5 Q20,2363.5 30,2363.5 H33.3"/>
<path class="a" d="M20,2378.5 Q20,2388.5 30,2388.5 H33.3"/>
<path class="a" d="M20,2403.5 Q20,2413.5 30,2413.5 H33.3"/>
<path class="a" d="M20,2428.5 Q20,2438.5 30,2438.5 H33.3"/>
<path class="a" d="M20,2453.5 Q20,2463.5 30,2463.5 H33.3"/>
<path class="a" d="M20,2478.5 Q20,2488.5 30,2488.5 H33.3"/>
<path class="a" d="M20,2503.5 Q20,2513.5 30,2513.5 H33.3"/>
<path class="a" d="M20,2528.5 Q20,2538.5 30,2538.5 H33.3"/>
<path class="a" d="M20,2553.5 Q20,2563.5 30,2563.5 H33.3"/>
<path class="a" d="M20,2578.5 Q20,2588.5 30,2588.5 H33.3"/>
<path class="a" d="M20,2603.5 Q20,2613.5 30,2613.5 H33.3"/>
<path class="a" d="M20,2628.5 Q20,2638.5 30,2638.5 H33.3"/>
<path class="a" d="M20,2653.5 Q20,2663.5 30,2663.5 H33.3"/>
<path class="a" d="M20,2678.5 Q20,2688.5 30,2688.5 H33.3"/>
<path class="a" d="M20,2703.5 Q20,2713.5 30,2713.5 H33.3"/>
<path class="a" d="M20,2728.5 Q20,2738.5 30,2738.5 H33.3"/>
<path class="a" d="M20,2753.5 Q20,2763.5 30,2763.5 H33.3"/>
<path class="a" d="M20,2778.5 Q20,2788.5 30,2788.5 H33.3"/>
<path class="a" d="M20,2803.5 Q20,2813.5 30,2813.5 H33.3"/>
<path class="a" d="M20,2828.5 Q20,2838.5 30,2838.5 H33.3"/>
<path class="a" d="M20,2853.5 Q20,2863.5 30,2863.5 H33.3"/>
<path class="a" d="M20,2878.5 Q20,2888.5 30,2888.5 H33.3"/>
<path class="a" d="M20,2903.5 Q20,2913.5 30,2913.5 H33.3"/>
<path class="a" d="M20,2928.5 Q20,2938.5 30,2938.5 H33.3"/>
<path class="a" d="M20,2953.5 Q20,2963.5 30,2963.5 H33.3"/>
<path class="a" d="M20,2978.5 Q20,2988.5 30,2988.5 H33.3"/>
<path class="a" d="M20,3003.5 Q20,3013.5 30,3013.5 H33.3"/>
<path class="a" d="M20,3028.5 Q20,3038.5 30,3038.5 H33.3"/>
<path class="a" d="M20,3053.5 Q20,3063.5 30,3063.5 H33.3"/>
<path class="a" d="M20,3078.5 Q20,3088.5 30,3088.5 H33.3"/>
<path class="a" d="M20,3103.5 Q20,3113.5 30,3113.5 H33.3"/>
<path class="a" d="M20,3128.5 Q20,3138.5 30,3138.5 H33.3"/>
<path class="a" d="M20,3153.5 Q20,3163.5 30,3163.5 H33.3"/>
<path class="a" d="M20,3178.5 Q20,3188.5 30,3188.5 H33.3"/>
<path class="a" d="M20,3203.5 Q20,3213.5 30,3213.5 H33.3"/>
<path class="a" d="M20,3228.5 Q20,3238.5 30,3238.5 H33.3"/>
<path class="a" d="M20,3253.5 Q20,3263.5 30,3263.5 H33.3"/>
<path class="a" d="M20,3278.5 Q20,3288.5 30,3288.5 H33.3"/>
<path class="a" d="M20,3303.5 Q20,3313.5 30,3313.5 H33.3"/>
<path class="a" d="M20,3328.5 Q20,3338.5 30,3338.5 H33.3"/>
<path class="a" d="M20,3353.5 Q20,3363.5 30,3363.5 H33.3"/>
<path class="a" d="M20,3378.5 Q20,3388.5 30,3388.5 H33.3"/>
<path class="a" d="M20,3403.5 Q20,3413.5 30,3413.5 H33.3"/>
<path class="a" d="M20,3428.5 Q20,3438.5 30,3438.5 H33.3"/>
<path class="a" d="M20,3453.5 Q20,3463.5 30,3463.5 H33.3"/>
<path d="M61,2238.5 H64 Q74,2238.5 74,2228.5 M61,2263.5 H64 Q74,2263.5 74,2253.5 M61,2288.5 H64 Q74,2288.5 74,2278.5 M61,2313.5 H64 Q74,2313.5 74,2303.5 M61,2338.5 H64 Q74,2338.5 74,2328.5 M61,2363.5 H64 Q74,2363.5 74,2353.5 M61,2388.5 H64 Q74,2388.5 74,2378.5 M61,2413.5 H64 Q74,2413.5 74,2403.5 M61,2438.5 H64 Q74,2438.5 74,2428.5 M61,2463.5 H64 Q74,2463.5 74,2453.5 M61,2488.5 H64 Q74,2488.5 74,2478.5 M61,2513.5 H64 Q74,2513.5 74,2503.5 M61,2538.5 H64 Q74,2538.5 74,2528.5 M61,2563.5 H64 Q74,2563.5 74,2553.5 M61,2588.5 H64 Q74,2588.5 74,2578.5 M61,2613.5 H64 Q74,2613.5 74,2603.5 M61,2638.5 H64 Q74,2638.5 74,2628.5 M61,2663.5 H64 Q74,2663.5 74,2653.5 M61,2688.5 H64 Q74,2688.5 74,2678.5 M61,2713.5 H64 Q74,2713.5 74,2703.5 M61,2738.5 H64 Q74,2738.5 74,2728.5 M61,2763.5 H64 Q74,2763.5 74,2753.5 M61,2788.5 H64 Q74,2788.5 74,2778.5 M61,2813.5 H64 Q74,2813.5 74,2803.5 M61,2838.5 H64 Q74,2838.5 74,2828.5 M61,2863.5 H64 Q74,2863.5 74,2853.5 M61,2888.5 H64 Q74,2888.5 74,2878.5 M61,2913.5 H64 Q74,2913.5 74,2903.5 M61,2938.5 H64 Q74,2938.5 74,2928.5 M61,2963.5 H64 Q74,2963.5 74,2953.5 M61,2988.5 H64 Q74,2988.5 74,2978.5 M61,3013.5 H64 Q74,3013.5 74,3003.5 M61,3038.5 H64 Q74,3038.5 74,3028.5 M61,3063.5 H64 Q74,3063.5 74,3053.5 M61,3088.5 H64 Q74,3088.5 74,3078.5 M61,3113.5 H64 Q74,3113.5 74,3103.5 M61,3138.5 H64 Q74,3138.5 74,3128.5 M61,3163.5 H64 Q74,3163.5 74,3153.5 M61,3188.5 H64 Q74,3188.5 74,3178.5 M61,3213.5 H64 Q74,3213.5 74,3203.5 M61,3238.5 H64 Q74,3238.5 74,3228.5 M61,3263.5 H64 Q74,3263.5 74,3253.5 M61,3288.5 H64 Q74,3288.5 74,3278.5 M61,3313.5 H64 Q74,3313.5 74,3303.5 M61,3338.5 H64 Q74,3338.5 74,3328.5 M61,3363.5 H64 Q74,3363.5 74,3353.5 M61,3388.5 H64 Q74,3388.5 74,3378.5 M61,3413.5 H64 Q74,3413.5 74,3403.5 M61,3438.5 H64 Q74,3438.5 74,3428.5 M61,3463.5 H64 Q74,3463.5 74,3453.5"/>
</g>
<circle class="sd" cx="7" cy="2213.5" r="2.5"/><use xlink:href="#endm" x="86" y="2213.5"/>
<g id="letter-lo-a" class="k" transform="translate(0,2213.5)"><rect x="33.3" y="-11" width="27.7" height="22"/><text x="47.2" y="4">a</text></g>
<g id="letter-lo-b" class="k" transform="translate(0,2238.5)"><rect x="33.3" y="-11" width="27.7" height="22"/><text x="47.2" y="4">b</text></g>
<g id="letter-lo-c" class="k" transform="translate(0,2263.5)"><rect x="33.3" y="-11" width="27.7" height="22"/><text x="47.2" y="4">c</text></g>
<g id="letter-lo-d" class="k" transform="translate(0,2288.5)"><rect x="33.3" y="-11" width="27.7" height="22"/><text x="47.2" y="4">d</text></g>
<g id="letter-lo-e" class="k" transform="translate(0,2313.5)"><rect x="33.3" y="-11" width="27.7" height="22"/><text x="47.2" y="4">e</text></g>
<g id="letter-lo-f" class="k" transform="translate(0,2338.5)"><rect x="33.3" y="-11" width="27.7" height="22"/><text x="47.2" y="4">f</text></g>
<g id="letter-lo-g" class="k" transform="translate(0,2363.5)"><rect x="33.3" y="-11" width="27.7" height="22"/><text x="47.2" y="4">g</text></g>
<g id="letter-lo-h" class="k" transform="translate(0,2388.5)"><rect x="33.3" y="-11" width="27.7" height="22"/><text x="47.2" y="4">h</text></g>
<g id="letter-lo-i" class="k" transform="translate(0,2413.5)"><rect x="33.3" y="-11" width="27.7" height="22"/><text x="47.2" y="4">i</text></g>
<g id="letter-lo-j" class="k" transform="translate(0,2438.5)"><rect x="33.3" y="-11" width="27.7" height="22"/><text x="47.2" y="4">j</text></g>
<g id="letter-lo-k" class="k" transform="translate(0,2463.5)"><rect x="33.3" y="-11" width="27.7" height="22"/><text x="47.2" y="4">k</text></g>
<g id="letter-lo-l" class="k" transform="translate(0,2488.5)"><rect x="33.3" y="-11" width="27.7" height="22"/><text x="47.2" y="4">l</text></g>
<g id="letter-lo-m" class="k" transform="translate(0,2513.5)"><rect x="33.3" y="-11" width="27.7" height="22"/><text x="47.2" y="4">m</text></g>
<g id="letter-lo-n" class="k" transform="translate(0,2538.5)"><rect x="33.3" y="-11" width="27.7" height="22"/><text x="47.2" y="4">n</text></g>
<g id="letter-lo-o" class="k" transform="translate(0,2563.5)"><rect x="33.3" y="-11" width="27.7" height="22"/><text x="47.2" y="4">o</text></g>
<g id="letter-lo-p" class="k" transform="translate(0,2588.5)"><rect x="33.3" y="-11" width="27.7" height="22"/><text x="47.2" y="4">p</text></g>
<g id="letter-lo-q" class="k" transform="translate(0,2613.5)"><rect x="33.3" y="-11" width="27.7" height="22"/><text x="47.2" y="4">q</text></g>
<g id="letter-lo-r" class="k" transform="translate(0,2638.5)"><rect x="33.3" y="-11" width="27.7" height="22"/><text x="47.2" y="4">r</text></g>
<g id="letter-lo-s" class="k" transform="translate(0,2663.5)"><rect x="33.3" y="-11" width="27.7" height="22"/><text x="47.2" y="4">s</text></g>
<g id="letter-lo-t" class="k" transform="translate(0,2688.5)"><rect x="33.3" y="-11" width="27.7" height="22"/><text x="47.2" y="4">t</text></g>
<g id="letter-lo-u" class="k" transform="translate(0,2713.5)"><rect x="33.3" y="-11" width="27.7" height="22"/><text x="47.2" y="4">u</text></g>
<g id="letter-lo-v" class="k" transform="translate(0,2738.5)"><rect x="33.3" y="-11" width="27.7" height="22"/><text x="47.2" y="4">v</text></g>
<g id="letter-lo-w" class="k" transform="translate(0,2763.5)"><rect x="33.3" y="-11" width="27.7" height="22"/><text x="47.2" y="4">w</text></g>
<g id="letter-lo-x" class="k" transform="translate(0,2788.5)"><rect x="33.3" y="-11" width="27.7" height="22"/><text x="47.2" y="4">x</text></g>
<g id="letter-lo-y" class="k" transform="translate(0,2813.5)"><rect x="33.3" y="-11" width="27.7" height="22"/><text x="47.2" y="4">y</text></g>
<g id="letter-lo-z" class="k" transform="translate(0,2838.5)"><rect x="33.3" y="-11" width="27.7" height="22"/><text x="47.2" y="4">z</text></g>
<g id="letter-up-A" class="k" transform="translate(0,2863.5)"><rect x="33.3" y="-11" width="27.7" height="22"/><text x="47.2" y="4">A</text></g>
<g id="letter-up-B" class="k" transform="translate(0,2888.5)"><rect x="33.3" y="-11" width="27.7" height="22"/><text x="47.2" y="4">B</text></g>
<g id="letter-up-C" class="k" transform="translate(0,2913.5)"><rect x="33.3" y="-11" width="27.7" height="22"/><text x="47.2" y="4">C</text></g>
<g id="letter-up-D" class="k" transform="translate(0,2938.5)"><rect x="33.3" y="-11" width="27.7" height="22"/><text x="47.2" y="4">D</text></g>
<g id="letter-up-E" class="k" transform="translate(0,2963.5)"><rect x="33.3" y="-11" width="27.7" height="22"/><text x="47.2" y="4">E</text></g>
<g id="letter-up-F" class="k" transform="translate(0,2988.5)"><rect x="33.3" y="-11" width="27.7" height="22"/><text x="47.2" y="4">F</text></g>
<g id="letter-up-G" class="k" transform="translate(0,3013.5)"><rect x="33.3" y="-11" width="27.7" height="22"/><text x="47.2" y="4">G</text></g>
<g id="letter-up-H" class="k" transform="translate(0,3038.5)"><rect x="33.3" y="-11" width="27.7" height="22"/><text x="47.2" y="4">H</text></g>
<g id="letter-up-I" class="k" transform="translate(0,3063.5)"><rect x="33.3" y="-11" width="27.7" height="22"/><text x="47.2" y="4">I</text></g>
<g id="letter-up-J" class="k" transform="translate(0,3088.5)"><rect x="33.3" y="-11" width="27.7" height="22"/><text x="47.2" y="4">J</text></g>
<g id="letter-up-K" class="k" transform="translate(0,3113.5)"><rect x="33.3" y="-11" width="27.7" height="22"/><text x="47.2" y="4">K</text></g>
<g id="letter-up-L" class="k" transform="translate(0,3138.5)"><rect x="33.3" y="-11" width="27.7" height="22"/><text x="47.2" y="4">L</text></g>
<g id="letter-up-M" class="k" transform="translate(0,3163.5)"><rect x="33.3" y="-11" width="27.7" height="22"/><text x="47.2" y="4">M</text></g>
<g id="letter-up-N" class="k" transform="translate(0,3188.5)"><rect x="33.3" y="-11" width="27.7" height="22"/><text x="47.2" y="4">N</text></g>
<g id="letter-up-O" class="k" transform="translate(0,3213.5)"><rect x="33.3" y="-11" width="27.7" height="22"/><text x="47.2" y="4">O</text></g>
<g id="letter-up-P" class="k" transform="translate(0,3238.5)"><rect x="33.3" y="-11" width="27.7" height="22"/><text x="47.2" y="4">P</text></g>
<g id="letter-up-Q" class="k" transform="translate(0,3263.5)"><rect x="33.3" y="-11" width="27.7" height="22"/><text x="47.2" y="4">Q</text></g>
<g id="letter-up-R" class="k" transform="translate(0,3288.5)"><rect x="33.3" y="-11" width="27.7" height="22"/><text x="47.2" y="4">R</text></g>
<g id="letter-up-S" class="k" transform="translate(0,3313.5)"><rect x="33.3" y="-11" width="27.7" height="22"/><text x="47.2" y="4">S</text></g>
<g id="letter-up-T" class="k" transform="translate(0,3338.5)"><rect x="33.3" y="-11" width="27.7" height="22"/><text x="47.2" y="4">T</text></g>
<g id="letter-up-U" class="k" transform="translate(0,3363.5)"><rect x="33.3" y="-11" width="27.7" height="22"/><text x="47.2" y="4">U</text></g>
<g id="letter-up-V" class="k" transform="translate(0,3388.5)"><rect x="33.3" y="-11" width="27.7" height="22"/><text x="47.2" y="4">V</text></g>
<g id="letter-up-W" class="k" transform="translate(0,3413.5)"><rect x="33.3" y="-11" width="27.7" height="22"/><text x="47.2" y="4">W</text></g>
<g id="letter-up-X" class="k" transform="translate(0,3438.5)"><rect x="33.3" y="-11" width="27.7" height="22"/><text x="47.2" y="4">X</text></g>
<g id="letter-up-Y" class="k" transform="translate(0,3463.5)"><rect x="33.3" y="-11" width="27.7" height="22"/><text x="47.2" y="4">Y</text></g>
<g id="letter-up-Z" class="k" transform="translate(0,3488.5)"><rect x="33.3" y="-11" width="27.7" height="22"/><text x="47.2" y="4">Z</text></g>
</g>

<g id="rule-digit">
<text class="ti" x="4" y="3524.5">DIGIT:</text>
<g id="digit-wires" class="w">
<path class="a" d="M7,3540.5 H33.3"/><path d="M61,3540.5 H83"/>
<path class="a" d="M10,3540.5 Q20,3540.5 20,3550.5 V3755.5 Q20,3765.5 30,3765.5 H33.3"/>
<path d="M61,3765.5 H64 Q74,3765.5 74,3755.5 V3550.5 Q74,3540.5 83,3540.5"/>
<path class="a" d="M20,3555.5 Q20,3565.5 30,3565.5 H33.3"/>
<path class="a" d="M20,3580.5 Q20,3590.5 30,3590.5 H33.3"/>
<path class="a" d="M20,3605.5 Q20,3615.5 30,3615.5 H33.3"/>
<path class="a" d="M20,3630.5 Q20,3640.5 30,3640.5 H33.3"/>
<path class="a" d="M20,3655.5 Q20,3665.5 30,3665.5 H33.3"/>
<path class="a" d="M20,3680.5 Q20,3690.5 30,3690.5 H33.3"/>
<path class="a" d="M20,3705.5 Q20,3715.5 30,3715.5 H33.3"/>
<path class="a" d="M20,3730.5 Q20,3740.5 30,3740.5 H33.3"/>
<path d="M61,3565.5 H64 Q74,3565.5 74,3555.5 M61,3590.5 H64 Q74,3590.5 74,3580.5 M61,3615.5 H64 Q74,3615.5 74,3605.5 M61,3640.5 H64 Q74,3640.5 74,3630.5 M61,3665.5 H64 Q74,3665.5 74,3655.5 M61,3690.5 H64 Q74,3690.5 74,3680.5 M61,3715.5 H64 Q74,3715.5 74,3705.5 M61,3740.5 H64 Q74,3740.5 74,3730.5"/>
</g>
<circle class="sd" cx="7" cy="3540.5" r="2.5"/><use xlink:href="#endm" x="86" y="3540.5"/>
<g id="digit-1" class="k" transform="translate(0,3540.5)"><rect x="33.3" y="-11" width="27.7" height="22"/><text x="47.2" y="4">1</text></g>
<g id="digit-2" class="k" transform="translate(0,3565.5)"><rect x="33.3" y="-11" width="27.7" height="22"/><text x="47.2" y="4">2</text></g>
<g id="digit-3" class="k" transform="translate(0,3590.5)"><rect x="33.3" y="-11" width="27.7" height="22"/><text x="47.2" y="4">3</text></g>
<g id="digit-4" class="k" transform="translate(0,3615.5)"><rect x="33.3" y="-11" width="27.7" height="22"/><text x="47.2" y="4">4</text></g>
<g id="digit-5" class="k" transform="translate(0,3640.5)"><rect x="33.3" y="-11" width="27.7" height="22"/><text x="47.2" y="4">5</text></g>
<g id="digit-6" class="k" transform="translate(0,3665.5)"><rect x="33.3" y="-11" width="27.7" height="22"/><text x="47.2" y="4">6</text></g>
<g id="digit-7" class="k" transform="translate(0,3690.5)"><rect x="33.3" y="-11" width="27.7" height="22"/><text x="47.2" y="4">7</text></g>
<g id="digit-8" class="k" transform="translate(0,3715.5)"><rect x="33.3" y="-11" width="27.7" height="22"/><text x="47.2" y="4">8</text></g>
<g id="digit-9" class="k" transform="translate(0,3740.5)"><rect x="33.3" y="-11" width="27.7" height="22"/><text x="47.2" y="4">9</text></g>
<g id="digit-0" class="k" transform="translate(0,3765.5)"><rect x="33.3" y="-11" width="27.7" height="22"/><text x="47.2" y="4">0</text></g>
</g>
</svg>
